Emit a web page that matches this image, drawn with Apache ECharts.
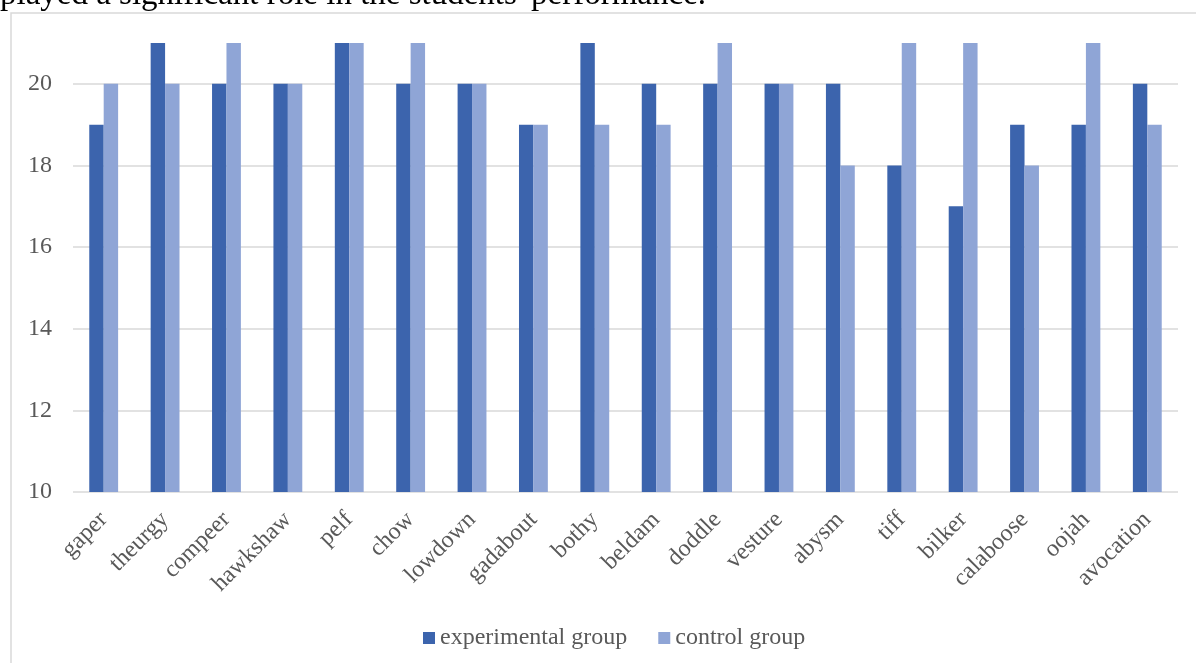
<!DOCTYPE html>
<html>
<head>
<meta charset="utf-8">
<script src="https://cdn.jsdelivr.net/npm/echarts@6/dist/echarts.min.js"></script>
<style>
html,body{margin:0;padding:0;background:#fff;}
#chart{width:1196px;height:663px;}
</style>
</head>
<body>
<div id="chart"></div>
<script>
const categories = ['gaper','theurgy','compeer','hawkshaw','pelf','chow','lowdown','gadabout','bothy','beldam','doddle','vesture','abysm','tiff','bilker','calaboose','oojah','avocation'];
const experimentalGroup = [19,21,20,20,21,20,20,19,21,20,20,20,20,18,17,19,19,20];
const controlGroup = [20,20,21,20,21,21,20,19,19,19,21,20,18,21,21,18,21,19];
const seriesNames = ['experimental group','control group'];
const topText = "played a significant role in the students' performance.";

const chart = echarts.init(document.getElementById('chart'));
const serif = '"Liberation Serif","Times New Roman",serif';
chart.setOption({
  animation: false,
  backgroundColor: '#fff',
  graphic: [
    { type: 'rect', shape: { x: 11, y: 13, width: 1200, height: 700 },
      style: { fill: 'none', stroke: '#d9d9d9', lineWidth: 1.5 }, z: 0 },
    { type: 'text', x: 0, y: -21,
      style: { text: topText, font: '33px ' + serif, fill: '#000' }, z: 5 }
  ],
  grid: { left: 73, right: 18, top: 43, bottom: 171, containLabel: false },
  legend: {
    bottom: 8, left: 418,
    itemWidth: 12, itemHeight: 12, itemGap: 31,
    icon: 'rect',
    textStyle: { fontFamily: serif, fontSize: 24, color: '#595959' },
    data: seriesNames
  },
  xAxis: {
    type: 'category',
    data: categories,
    axisLine: { show: false },
    axisTick: { show: false },
    axisLabel: { rotate: 45, interval: 0, margin: 24, fontFamily: serif, fontSize: 24, color: '#595959' }
  },
  yAxis: {
    type: 'value',
    min: 10, max: 21, interval: 2,
    axisLine: { show: false },
    axisTick: { show: false },
    axisLabel: { showMaxLabel: false, margin: 21, fontFamily: serif, fontSize: 24, color: '#595959' },
    splitLine: { lineStyle: { color: ['#d9d9d9','#d9d9d9','#d9d9d9','#d9d9d9','#d9d9d9','#d9d9d9','rgba(0,0,0,0)'], width: 1.5 } }
  },
  series: [
    { name: seriesNames[0], type: 'bar', data: experimentalGroup, barGap: '0%', barCategoryGap: '53%',
      itemStyle: { color: '#3C64AD' } },
    { name: seriesNames[1], type: 'bar', data: controlGroup, barGap: '0%', barCategoryGap: '53%',
      itemStyle: { color: '#8FA5D6' } }
  ]
});
</script>
</body>
</html>
